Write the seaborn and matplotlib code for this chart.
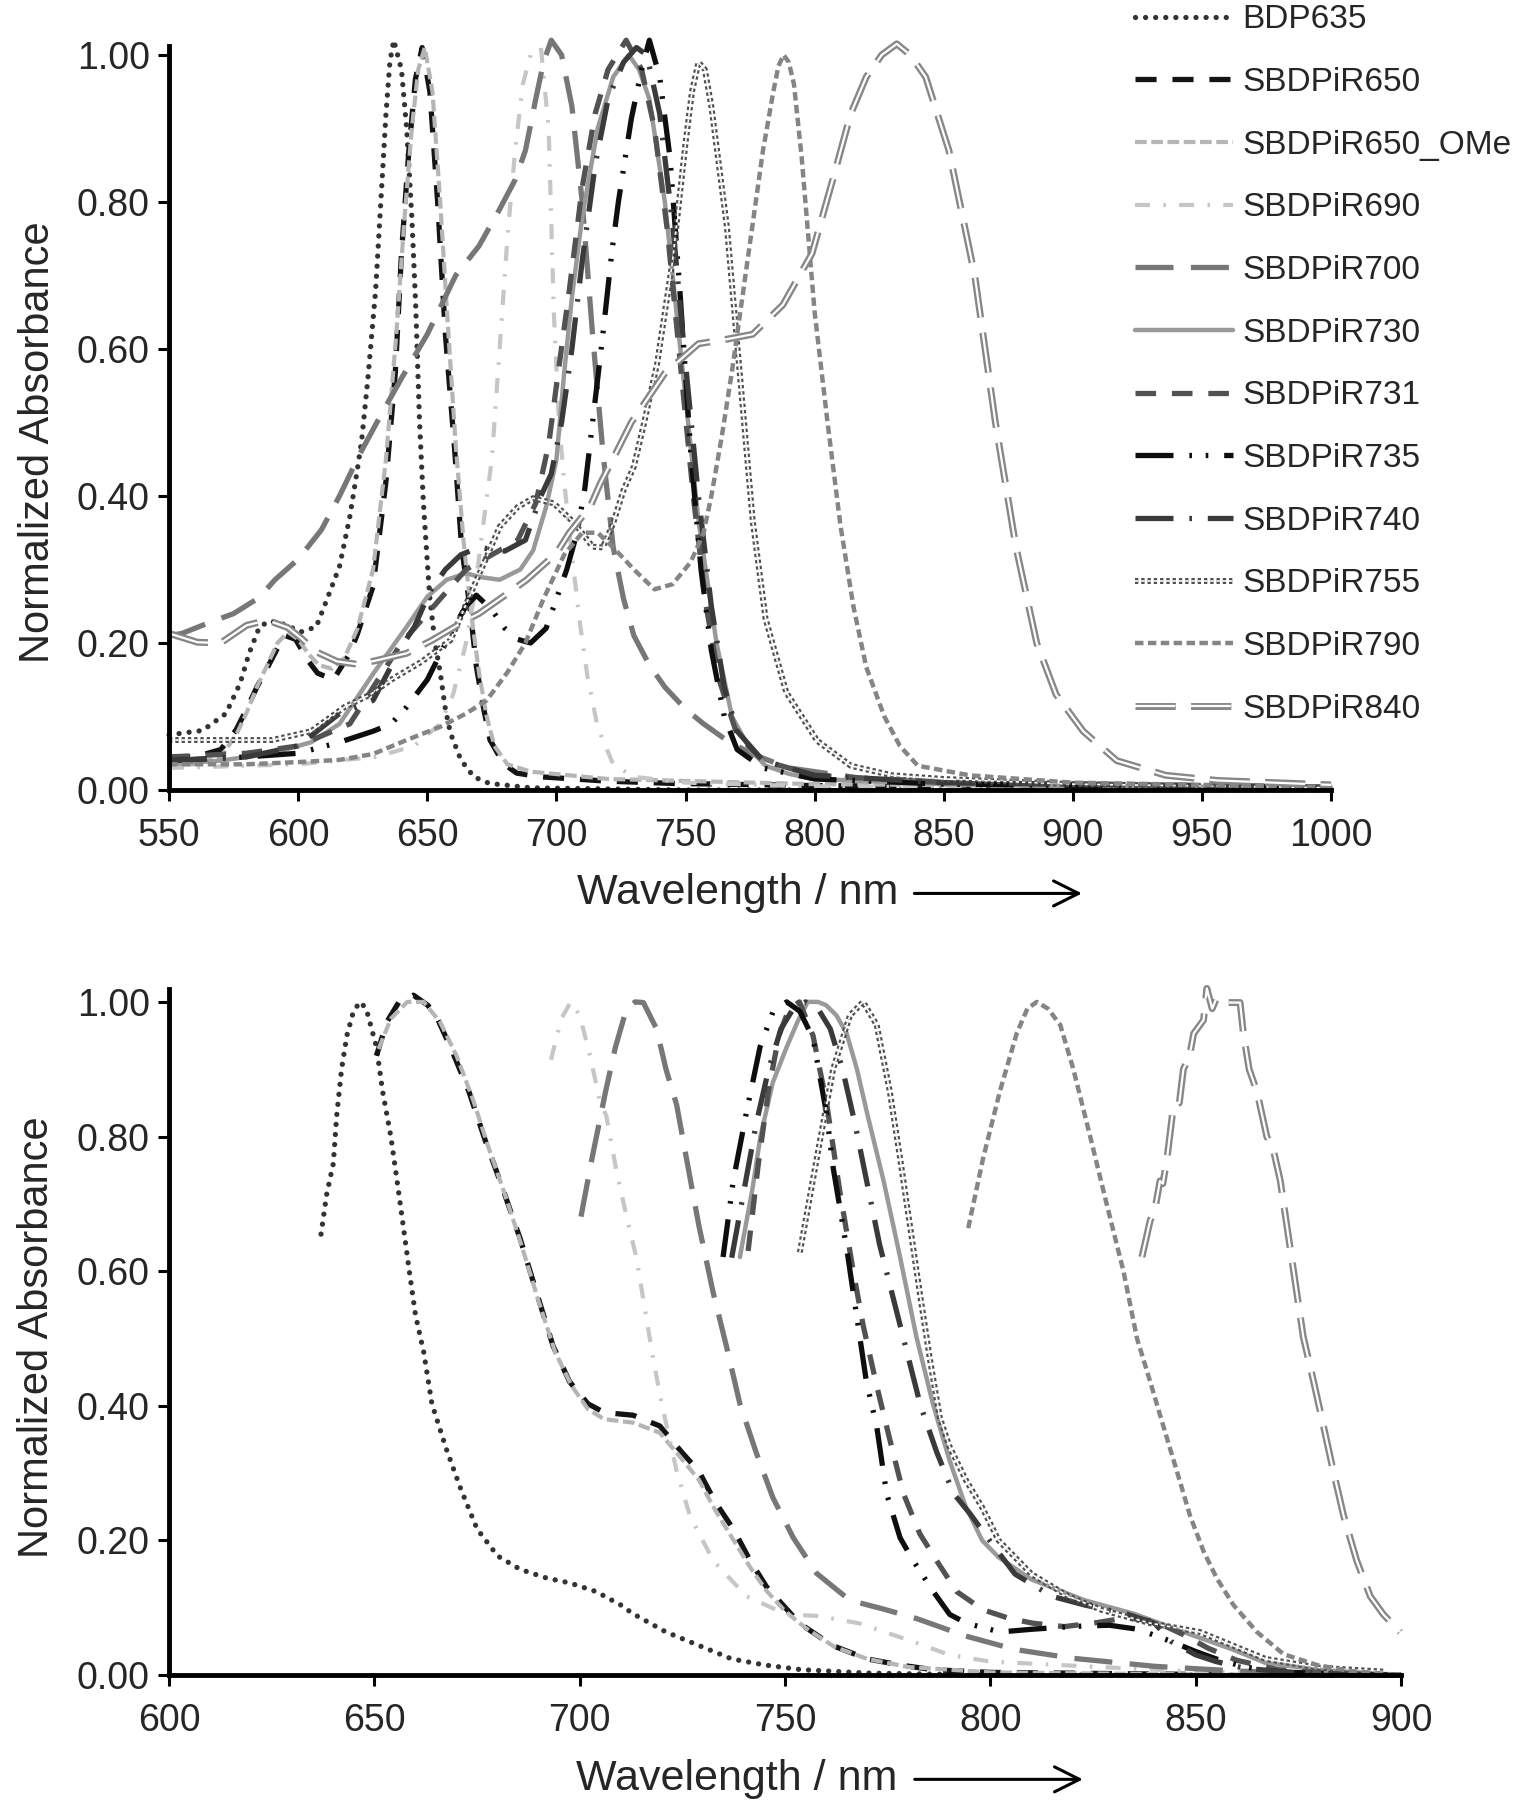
import matplotlib
matplotlib.use("Agg")
import matplotlib.pyplot as plt
import matplotlib.patheffects as pe
from matplotlib.ticker import FormatStrFormatter
import seaborn as sns

sns.set_style("ticks")
plt.rcParams["font.family"] = ["Liberation Sans", "DejaVu Sans"]

names = ["BDP635", "SBDPiR650", "SBDPiR650_OMe", "SBDPiR690", "SBDPiR700",
         "SBDPiR730", "SBDPiR731", "SBDPiR735", "SBDPiR740", "SBDPiR755",
         "SBDPiR790", "SBDPiR840"]

# ---- top panel: absorption spectra (wavelength nm, normalized value) ----
a_bdp635_x = [550, 563, 572, 577.5, 581, 585, 589, 595, 601, 607, 611, 616, 620, 622.7, 624.6, 627, 630,
              632, 634, 635.5, 637, 640, 642, 644, 645.5, 647, 648.5, 650, 651, 653, 655, 657, 659, 663,
              668, 674, 690, 750, 1000]
a_bdp635_y = [0.075, 0.081, 0.104, 0.145, 0.186, 0.222, 0.23, 0.225, 0.215, 0.222, 0.258, 0.304, 0.372,
              0.431, 0.476, 0.56, 0.68, 0.8, 0.92, 0.99, 1.02, 0.98, 0.9, 0.78, 0.66, 0.5, 0.39, 0.31,
              0.26, 0.2, 0.16, 0.11, 0.077, 0.041, 0.018, 0.009, 0.003, 0.0, 0.0]

a_650_x = [550, 560, 570, 576, 580, 584, 588, 592, 595, 599, 603.6, 607.5, 613.6, 620, 623, 629, 634,
           637.6, 640, 642.8, 645.4, 648, 651, 654, 657, 660.7, 663.3, 666.5, 669, 671.7, 674.3, 679.5,
           684.6, 693.7, 720, 745, 800, 900, 1000]
a_650_y = [0.045, 0.045, 0.055, 0.082, 0.11, 0.14, 0.166, 0.193, 0.21, 0.205, 0.177, 0.159, 0.15, 0.186,
           0.213, 0.277, 0.42, 0.567, 0.73, 0.867, 0.967, 1.01, 0.95, 0.8, 0.62, 0.458, 0.33, 0.249,
           0.168, 0.113, 0.068, 0.036, 0.023, 0.018, 0.012, 0.009, 0.006, 0.004, 0.002]

a_650ome_x = [550, 560, 570, 576, 580, 584, 588, 592, 596, 600, 604, 608, 613, 618, 623, 629, 634, 638,
              641, 644, 646.5, 649, 652, 655, 658, 661, 664, 667, 670, 673, 676, 681, 690, 720, 800, 1000]
a_650ome_y = [0.035, 0.035, 0.045, 0.075, 0.105, 0.14, 0.17, 0.2, 0.215, 0.205, 0.185, 0.17, 0.165, 0.18,
              0.22, 0.3, 0.45, 0.62, 0.77, 0.9, 0.98, 1.01, 0.95, 0.8, 0.63, 0.47, 0.34, 0.24, 0.16,
              0.1, 0.06, 0.035, 0.025, 0.015, 0.008, 0.003]

a_690_x = [550, 600, 630, 645, 655, 660, 665, 668, 672, 675, 678, 681, 684, 687, 690, 694, 697, 699,
           701, 703, 706, 709, 712, 716, 722, 730, 750, 800, 1000]
a_690_y = [0.03, 0.035, 0.045, 0.06, 0.09, 0.13, 0.2, 0.26, 0.37, 0.45, 0.6, 0.75, 0.87, 0.96, 1.0,
           1.01, 0.9, 0.65, 0.5, 0.42, 0.32, 0.23, 0.155, 0.085, 0.035, 0.018, 0.01, 0.005, 0.002]

a_700_x = [550, 555, 565, 575, 585, 591, 600, 609, 616, 624, 632, 640, 650, 661, 670, 678, 684, 688,
           692, 695, 698, 702, 706, 710, 714, 718, 722, 726, 730, 736, 742, 750, 757, 765, 775, 790,
           820, 900, 1000]
a_700_y = [0.21, 0.213, 0.227, 0.24, 0.262, 0.286, 0.314, 0.354, 0.4, 0.458, 0.51, 0.56, 0.62, 0.7,
           0.74, 0.79, 0.83, 0.87, 0.94, 0.99, 1.02, 1.0, 0.93, 0.8, 0.62, 0.46, 0.33, 0.26, 0.21,
           0.17, 0.14, 0.11, 0.09, 0.07, 0.05, 0.03, 0.015, 0.005, 0.002]

a_730_x = [550, 570, 590, 605, 616, 629, 642, 650, 657.5, 665, 670, 678, 686, 691, 696, 700, 703, 706,
           710, 716, 722, 728, 732, 736, 742, 749, 755, 762, 768, 775, 781, 790, 800, 850, 900, 1000]
a_730_y = [0.035, 0.04, 0.05, 0.065, 0.09, 0.158, 0.222, 0.263, 0.286, 0.295, 0.29, 0.286, 0.3, 0.326,
           0.385, 0.449, 0.567, 0.67, 0.78, 0.9, 0.97, 1.0, 0.98, 0.94, 0.8, 0.567, 0.367, 0.2, 0.1,
           0.055, 0.033, 0.022, 0.015, 0.008, 0.005, 0.003]

a_731_x = [550, 580, 600, 620, 640, 645, 655, 665, 675, 685, 692, 697, 700, 705, 710, 715, 720, 727,
           733, 738, 743, 748, 753, 758, 763, 770, 780, 800, 850, 1000]
a_731_y = [0.045, 0.05, 0.06, 0.09, 0.2, 0.22, 0.26, 0.3, 0.32, 0.34, 0.39, 0.47, 0.55, 0.68, 0.82,
           0.92, 0.98, 1.02, 0.98, 0.9, 0.76, 0.58, 0.4, 0.25, 0.15, 0.075, 0.04, 0.02, 0.01, 0.004]

a_735_x = [550, 580, 600, 616, 629, 636, 642, 650, 660, 665, 669, 675, 680, 685, 690, 696, 700, 704,
           708, 711, 714, 718, 721.5, 724, 729, 733, 736, 740, 744, 748, 752, 756, 760, 765, 770, 780,
           800, 850, 1000]
a_735_y = [0.04, 0.045, 0.05, 0.065, 0.08, 0.09, 0.113, 0.15, 0.22, 0.25, 0.265, 0.245, 0.22, 0.205,
           0.2, 0.22, 0.26, 0.3, 0.35, 0.41, 0.5, 0.62, 0.733, 0.8, 0.913, 0.98, 1.02, 0.97, 0.86,
           0.67, 0.46, 0.3, 0.19, 0.1, 0.055, 0.03, 0.015, 0.008, 0.003]

a_740_x = [550, 580, 600, 616, 629, 640, 645, 651, 657, 663, 670, 680, 688, 694, 698, 702, 706, 710,
           715, 720, 726, 731, 735, 740, 745, 750, 755, 760, 765, 770, 780, 800, 850, 1000]
a_740_y = [0.04, 0.045, 0.06, 0.104, 0.122, 0.195, 0.222, 0.27, 0.3, 0.32, 0.33, 0.325, 0.34, 0.4,
           0.43, 0.5, 0.6, 0.72, 0.85, 0.94, 0.99, 1.01, 1.0, 0.92, 0.77, 0.58, 0.4, 0.25, 0.14, 0.08,
           0.04, 0.02, 0.01, 0.004]

a_755_x = [550, 570, 590, 605, 618, 628, 636, 648, 659, 668, 673, 678, 685, 691, 699, 707, 714, 718,
           722, 726, 730, 734, 739, 745, 750, 752.5, 755, 757.5, 760, 766, 771, 776, 781, 789, 801, 814,
           830, 850, 900, 1000]
a_755_y = [0.068, 0.068, 0.068, 0.08, 0.113, 0.13, 0.15, 0.175, 0.204, 0.277, 0.317, 0.358, 0.385,
           0.397, 0.39, 0.363, 0.331, 0.33, 0.363, 0.408, 0.44, 0.5, 0.58, 0.72, 0.88, 0.95, 0.99, 0.98,
           0.93, 0.767, 0.567, 0.367, 0.233, 0.133, 0.067, 0.033, 0.02, 0.015, 0.008, 0.003]

a_790_x = [550, 580, 600, 616, 629, 642, 655, 665, 673, 681, 688, 695, 703, 710, 716, 722, 730, 738,
           745, 752, 757, 760, 764, 768, 772, 776, 780, 784, 786, 788, 790, 792, 795, 800, 805, 810, 815,
           820, 827, 833, 840, 860, 900, 1000]
a_790_y = [0.035, 0.035, 0.038, 0.041, 0.049, 0.068, 0.086, 0.104, 0.122, 0.16, 0.2, 0.26, 0.32,
           0.35, 0.35, 0.33, 0.3, 0.273, 0.28, 0.31, 0.35, 0.4, 0.48, 0.57, 0.67, 0.77, 0.87, 0.95,
           0.985, 1.0, 0.99, 0.96, 0.86, 0.65, 0.5, 0.36, 0.25, 0.167, 0.1, 0.06, 0.033, 0.02, 0.01, 0.004]

a_840_x = [550, 561, 570, 580, 588, 596, 601, 607, 615, 623, 630, 642, 652, 665, 670, 683, 688.5, 700,
           705, 713, 717, 723, 729, 742, 755, 765.6, 776, 787.7, 799, 807, 814, 820, 826, 831.8, 837,
           843, 852, 862, 870, 878, 886, 893.5, 904, 917, 936, 956, 1000]
a_840_y = [0.213, 0.201, 0.2, 0.224, 0.231, 0.221, 0.207, 0.188, 0.175, 0.171, 0.176, 0.186, 0.204,
           0.231, 0.24, 0.272, 0.286, 0.322, 0.35, 0.385, 0.417, 0.458, 0.5, 0.567, 0.607, 0.613,
           0.62, 0.66, 0.73, 0.83, 0.92, 0.97, 1.0, 1.015, 1.0, 0.97, 0.87, 0.7, 0.5, 0.33, 0.2, 0.13,
           0.08, 0.04, 0.02, 0.013, 0.007]

# ---- bottom panel: emission spectra ----
e_bdp635_x = [637, 638.4, 640, 640.8, 642, 643.3, 644.9, 646.5, 648, 650.5, 652, 654, 655.5, 657, 658.5,
              660, 662, 664, 667.5, 671, 675, 680, 685.5, 692, 697.5, 704, 710, 713, 721, 729, 737, 745,
              754, 770, 800, 900]
e_bdp635_y = [0.655, 0.715, 0.76, 0.83, 0.9, 0.95, 0.986, 1.0, 0.99, 0.933, 0.867, 0.8, 0.735, 0.668,
              0.6, 0.535, 0.48, 0.403, 0.336, 0.277, 0.217, 0.177, 0.157, 0.144, 0.137, 0.124, 0.104,
              0.091, 0.064, 0.044, 0.024, 0.015, 0.008, 0.003, 0.0, 0.0]

e_650_x = [650.5, 653, 656, 659.5, 663, 665, 669, 673, 677, 681, 685.5, 689.5, 693.5, 697.5, 702, 706,
           713, 719.5, 725, 729, 733, 737.5, 741.5, 745.5, 749.5, 753.5, 761.5, 770, 778, 786, 800,
           850, 900]
e_650_y = [0.92, 0.97, 1.0, 1.01, 0.995, 0.98, 0.926, 0.867, 0.794, 0.727, 0.648, 0.568, 0.489, 0.436,
           0.403, 0.39, 0.386, 0.37, 0.33, 0.303, 0.257, 0.216, 0.17, 0.131, 0.104, 0.077, 0.044,
           0.024, 0.015, 0.008, 0.004, 0.001, 0.0]

e_650ome_x = [651, 654, 658, 662, 666, 670, 674, 678, 682, 686, 690, 694, 698, 702, 706, 713, 719.5,
              725, 729, 733, 737.5, 741.5, 745.5, 750, 755, 762, 770, 780, 800, 850, 900]
e_650ome_y = [0.93, 0.975, 1.0, 1.0, 0.97, 0.92, 0.855, 0.78, 0.71, 0.635, 0.555, 0.48, 0.43, 0.395,
              0.38, 0.375, 0.36, 0.32, 0.29, 0.245, 0.2, 0.16, 0.125, 0.095, 0.07, 0.042, 0.024, 0.012,
              0.004, 0.001, 0.0]

e_690_x = [693, 695.5, 697.8, 700, 702.5, 704.9, 706.5, 709, 711.4, 713.8, 717, 719.5, 723.6, 726.8,
           732.5, 740.6, 750.4, 757.7, 768, 781, 790, 800, 850, 900]
e_690_y = [0.914, 0.975, 1.0, 0.98, 0.92, 0.853, 0.83, 0.747, 0.681, 0.62, 0.502, 0.416, 0.303, 0.237,
           0.17, 0.117, 0.09, 0.088, 0.077, 0.05, 0.03, 0.02, 0.005, 0.0]

e_700_x = [700.3, 703, 706.3, 708.7, 711.4, 713.5, 715.5, 718.7, 721, 723.6, 726, 729, 732.5, 735.7,
           739, 743, 747, 752, 757.7, 765.8, 774, 782, 794, 806, 820, 840, 860, 880, 900]
e_700_y = [0.681, 0.768, 0.867, 0.933, 0.99, 1.0, 0.999, 0.96, 0.9, 0.847, 0.767, 0.668, 0.568, 0.489,
           0.403, 0.33, 0.264, 0.204, 0.151, 0.111, 0.098, 0.084, 0.058, 0.038, 0.025, 0.013, 0.006,
           0.002, 0.0]

e_730_x = [739, 742, 744, 747, 750.4, 753, 755.5, 758, 760, 762.5, 765, 767.5, 770, 774, 778, 782, 786,
           790, 794, 798, 802, 810, 823, 835, 847, 859, 867, 880, 900]
e_730_y = [0.621, 0.72, 0.8, 0.88, 0.933, 0.97, 1.0, 1.0, 0.995, 0.98, 0.953, 0.9, 0.834, 0.734, 0.621,
           0.502, 0.403, 0.32, 0.25, 0.2, 0.175, 0.142, 0.111, 0.091, 0.064, 0.038, 0.018, 0.008, 0.0]

e_731_x = [741, 743.5, 746, 748.5, 751, 753.5, 756.8, 760.1, 763.3, 766.6, 769, 772.3, 775.5, 778.8,
           782.8, 786.9, 791.8, 798.2, 804.7, 810.4, 818, 826, 833, 840, 847, 853, 860, 870, 885, 900]
e_731_y = [0.63, 0.76, 0.87, 0.95, 0.99, 1.0, 0.95, 0.85, 0.72, 0.6, 0.52, 0.43, 0.35, 0.27, 0.21,
           0.17, 0.124, 0.097, 0.084, 0.077, 0.072, 0.078, 0.085, 0.08, 0.06, 0.04, 0.022, 0.008, 0.002,
           0.0]

e_735_x = [734.9, 737.4, 740.6, 743.9, 747.1, 750.4, 753.6, 756.8, 760.1, 761.7, 765, 766.6, 769.8,
           772.3, 774.7, 778, 781.2, 786.1, 790.1, 794.2, 802.3, 810, 817, 823, 829, 836, 844, 850,
           855, 862, 870, 885, 900]
e_735_y = [0.621, 0.735, 0.836, 0.933, 0.986, 1.0, 0.986, 0.946, 0.834, 0.754, 0.634, 0.568, 0.436,
           0.37, 0.27, 0.204, 0.17, 0.124, 0.09, 0.077, 0.064, 0.068, 0.071, 0.073, 0.074, 0.068, 0.05,
           0.035, 0.024, 0.012, 0.005, 0.001, 0.0]

e_740_x = [737, 740, 743, 746, 749, 752, 755, 758, 761, 764, 767, 770, 773, 778, 783, 787, 791, 795,
           801, 806, 815, 823, 833, 840, 844, 850, 855, 862, 875, 900]
e_740_y = [0.62, 0.72, 0.82, 0.9, 0.96, 0.99, 1.0, 0.99, 0.96, 0.9, 0.82, 0.73, 0.64, 0.52, 0.4, 0.33,
           0.27, 0.24, 0.19, 0.15, 0.117, 0.104, 0.091, 0.077, 0.05, 0.03, 0.02, 0.01, 0.003, 0.0]

e_755_x = [753.6, 757.7, 761.7, 765.8, 769, 772.3, 775.5, 778, 780.4, 782.8, 785.3, 787.7, 790, 794,
           798, 802, 810, 819, 827, 839, 851, 859, 867, 880, 896]
e_755_y = [0.628, 0.767, 0.9, 0.98, 1.0, 0.966, 0.867, 0.768, 0.668, 0.568, 0.468, 0.382, 0.34, 0.29,
           0.249, 0.2, 0.15, 0.117, 0.097, 0.077, 0.064, 0.044, 0.024, 0.011, 0.005]

e_790_x = [794.6, 798.2, 802.3, 806.4, 809, 811.3, 814, 817, 820.2, 824.3, 828.3, 832.4, 835.7, 838.9,
           842.1, 845.4, 848.6, 851.9, 855.1, 859.2, 864.9, 871.4, 879.5, 887.6, 900]
e_790_y = [0.664, 0.767, 0.867, 0.953, 0.99, 1.0, 0.99, 0.966, 0.9, 0.8, 0.7, 0.6, 0.5, 0.436, 0.37,
           0.303, 0.237, 0.184, 0.144, 0.104, 0.064, 0.031, 0.015, 0.006, 0.0]

e_840_x = [836.9, 838.9, 840, 841.3, 842, 843, 844.6, 846, 847, 848.5, 849.5, 851.9, 852.7, 854,
           855.1, 857.6, 860.8, 861.6, 863, 864.9, 867.3, 868.9, 870.6, 871.4, 873, 874.6, 876.2,
           878.7, 881.1, 883.5, 886, 889.2, 892.5, 895.7, 899.8]
e_840_y = [0.621, 0.675, 0.69, 0.734, 0.73, 0.767, 0.847, 0.85, 0.9, 0.92, 0.953, 0.973, 1.02, 0.99,
           1.006, 0.999, 0.999, 0.953, 0.9, 0.867, 0.8, 0.78, 0.734, 0.7, 0.634, 0.568, 0.502, 0.436,
           0.37, 0.303, 0.237, 0.17, 0.117, 0.09, 0.064]

top_data = [(a_bdp635_x, a_bdp635_y), (a_650_x, a_650_y), (a_650ome_x, a_650ome_y), (a_690_x, a_690_y),
            (a_700_x, a_700_y), (a_730_x, a_730_y), (a_731_x, a_731_y), (a_735_x, a_735_y),
            (a_740_x, a_740_y), (a_755_x, a_755_y), (a_790_x, a_790_y), (a_840_x, a_840_y)]
bottom_data = [(e_bdp635_x, e_bdp635_y), (e_650_x, e_650_y), (e_650ome_x, e_650ome_y), (e_690_x, e_690_y),
               (e_700_x, e_700_y), (e_730_x, e_730_y), (e_731_x, e_731_y), (e_735_x, e_735_y),
               (e_740_x, e_740_y), (e_755_x, e_755_y), (e_790_x, e_790_y), (e_840_x, e_840_y)]

# line styles: colour, width, dash pattern (None = solid), path effects
styles = {
    "BDP635": ("#333333", 3.8, [0.01, 1.9], None),
    "SBDPiR650": ("#141414", 3.8, [4.0, 3.0], None),
    "SBDPiR650_OMe": ("#b5b5b5", 3.0, [2.8, 1.1], None),
    "SBDPiR690": ("#c6c6c6", 3.0, [3.6, 3.2, 0.6, 3.2], None),
    "SBDPiR700": ("#777777", 3.8, [7.2, 3.3], None),
    "SBDPiR730": ("#999999", 3.2, None, None),
    "SBDPiR731": ("#525252", 3.8, [3.9, 3.0], None),
    "SBDPiR735": ("#0e0e0e", 3.8, [7.2, 3.0, 0.5, 2.6, 0.5, 3.0], None),
    "SBDPiR740": ("#3a3a3a", 3.8, [7.2, 3.0, 0.5, 3.0], None),
    "SBDPiR755": ("#4e4e4e", 4.3, [0.55, 0.5], [pe.Normal(), pe.Stroke(linewidth=1.2, foreground="white")]),
    "SBDPiR790": ("#858585", 3.2, [1.9, 1.0], None),
    "SBDPiR840": ("#878787", 5.0, [5.8, 2.2], [pe.Normal(), pe.Stroke(linewidth=1.6, foreground="white")]),
}


def draw(ax, data, with_label):
    for name, (xs, ys) in zip(names, data):
        color, lw, dashes, effects = styles[name]
        sns.lineplot(x=xs, y=ys, ax=ax, color=color, linewidth=lw, estimator=None, sort=False,
                     label=name if with_label else None)
        line = ax.lines[-1]
        if dashes is not None:
            line.set_linestyle((0, dashes))
        if name == "BDP635":
            line.set_dash_capstyle("round")
        if effects is not None:
            line.set_path_effects(effects)
        line.set_clip_on(False)


def style_axes(ax, xmin, xmax, ymax):
    ax.set_xlim(xmin, xmax)
    ax.set_ylim(0, ymax)
    ax.set_xticks(list(range(xmin, xmax + 1, 50)))
    ax.set_yticks([0, 0.2, 0.4, 0.6, 0.8, 1.0])
    ax.yaxis.set_major_formatter(FormatStrFormatter("%.2f"))
    for side in ["top", "right"]:
        ax.spines[side].set_visible(False)
    for side in ["left", "bottom"]:
        ax.spines[side].set_linewidth(3.5)
        ax.spines[side].set_color("black")
    ax.tick_params(axis="both", direction="out", length=8, width=2.2, color="black", labelsize=27)
    ax.tick_params(axis="x", pad=12)
    ax.tick_params(axis="y", pad=6)
    ax.set_ylabel("Normalized Absorbance", fontsize=30)
    ax.set_xlabel("Wavelength / nm", fontsize=31)
    ax.grid(False)


fig = plt.figure(figsize=(15.15, 18), dpi=100)
ax1 = fig.add_axes([0.1116, 0.5611, 0.767, 0.4133])
ax2 = fig.add_axes([0.1116, 0.0694, 0.8132, 0.3811])

draw(ax1, top_data, True)
draw(ax2, bottom_data, False)

style_axes(ax1, 550, 1000, 1.012)
style_axes(ax2, 600, 900, 1.019)

ax1.xaxis.set_label_coords(0.489, -0.112)
ax1.yaxis.set_label_coords(-0.096, 0.468)
ax2.xaxis.set_label_coords(0.461, -0.122)
ax2.yaxis.set_label_coords(-0.091, 0.493)

# arrows after the x labels
ax1.annotate("", xy=(0.788, -0.139), xytext=(0.639, -0.139), xycoords="axes fraction",
             arrowprops=dict(arrowstyle="->,head_length=0.9,head_width=0.45", lw=2.2, color="black",
                             mutation_scale=20), annotation_clip=False)
ax2.annotate("", xy=(0.744, -0.152), xytext=(0.603, -0.152), xycoords="axes fraction",
             arrowprops=dict(arrowstyle="->,head_length=0.9,head_width=0.45", lw=2.2, color="black",
                             mutation_scale=20), annotation_clip=False)

leg2 = ax2.get_legend()
if leg2 is not None:
    leg2.remove()

ax1.legend(loc="upper left", bbox_to_anchor=(0.749, 0.9975), bbox_transform=fig.transFigure,
           frameon=False, fontsize=24, handlelength=2.94, handletextpad=0.3,
           labelspacing=0.95, borderpad=0, borderaxespad=0)

fig.savefig("out.png", dpi=100)
